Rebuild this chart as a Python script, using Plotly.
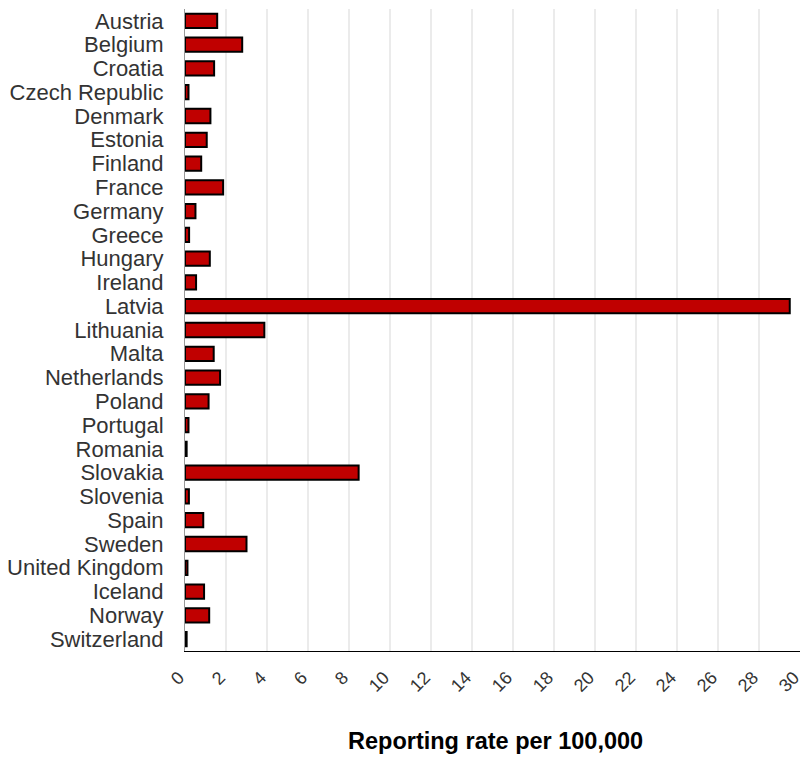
import plotly.graph_objects as go

countries = ["Austria", "Belgium", "Croatia", "Czech Republic", "Denmark", "Estonia",
             "Finland", "France", "Germany", "Greece", "Hungary", "Ireland", "Latvia",
             "Lithuania", "Malta", "Netherlands", "Poland", "Portugal", "Romania",
             "Slovakia", "Slovenia", "Spain", "Sweden", "United Kingdom", "Iceland",
             "Norway", "Switzerland"]
rates = [1.57, 2.79, 1.42, 0.17, 1.24, 1.06,
         0.79, 1.86, 0.51, 0.20, 1.21, 0.54, 29.5,
         3.87, 1.40, 1.71, 1.15, 0.17, 0.08,
         8.47, 0.19, 0.89, 3.00, 0.12, 0.93,
         1.18, 0.08]
x_ticks = list(range(0, 31, 2))

fig = go.Figure(go.Bar(
    x=rates, y=countries, orientation="h",
    marker=dict(color="#c00000", line=dict(color="black", width=2)),
))

fig.update_layout(
    width=803, height=758,
    margin=dict(l=185, r=3, t=9, b=107),
    plot_bgcolor="white", paper_bgcolor="white",
    bargap=0.4,
    showlegend=False,
    font=dict(family="Liberation Sans, Arial, sans-serif", color="#333333"),
    xaxis=dict(
        range=[0, 30], tickmode="array", tickvals=x_ticks,
        ticktext=[str(v) for v in x_ticks],
        tickangle=-45, tickfont=dict(size=18, color="#333333"),
        showgrid=True, gridcolor="#ebebeb", gridwidth=1.5,
        zeroline=False, showline=True, linecolor="black", linewidth=1,
        ticks="", ticklabelstandoff=8, ticklabelshift=-6, automargin=False,
        ticklabeloverflow="allow",
    ),
    yaxis=dict(
        autorange="reversed", tickmode="array", tickvals=countries,
        ticktext=countries, tickfont=dict(size=22, color="#333333"),
        showline=True, linecolor="#999999", linewidth=1,
        showgrid=False, ticks="", ticklabelstandoff=16, automargin=False,
    ),
    annotations=[dict(
        text="<b>Reporting rate per 100,000</b>", xref="paper", yref="paper",
        x=0.505, y=-0.14, xanchor="center", yanchor="middle", showarrow=False,
        font=dict(size=23.5, color="black", family="Liberation Sans, Arial, sans-serif"),
    )],
)

fig.write_html(
    "out.html",
    config={"displayModeBar": False},
    post_script="document.body.style.margin='0';document.body.style.overflow='hidden';",
)
